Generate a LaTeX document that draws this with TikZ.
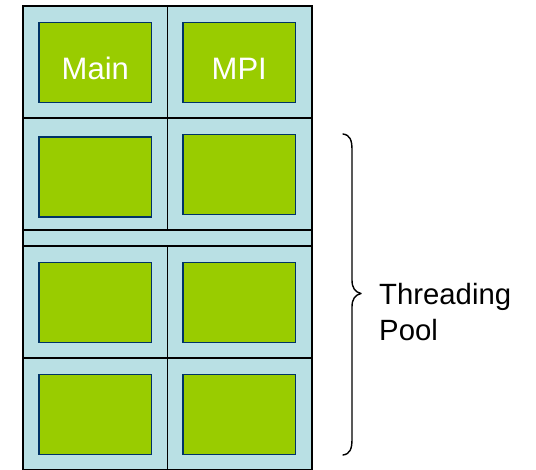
\documentclass[tikz,border=0pt]{standalone}
\usepackage{fontspec}
\setmainfont{Liberation Sans}
\definecolor{cellblue}{RGB}{185,224,228}
\definecolor{threadgreen}{RGB}{153,204,0}
\definecolor{edgeblue}{RGB}{0,51,102}
\begin{document}
\begin{tikzpicture}[x=1bp,y=-1bp,
  cell/.style={draw=black,line width=1.3bp,fill=cellblue,minimum width=144.5bp,minimum height=112bp,inner sep=0pt,outer sep=0pt},
  strip/.style={draw=black,line width=1.3bp,fill=cellblue,minimum width=289bp,minimum height=16bp,inner sep=0pt,outer sep=0pt},
  thread/.style={draw=edgeblue,line width=1.5bp,fill=threadgreen,minimum width=112.5bp,minimum height=80bp,inner sep=0pt,text=white,
    text height=34.6bp,text depth=0bp,font=\fontsize{31bp}{36bp}\selectfont},
  label/.style={align=left,anchor=west,inner sep=0pt,font=\fontsize{29.3bp}{36bp}\selectfont}]
\useasboundingbox (0,0) rectangle (536,470);
% cell grid
\node[cell] (c11) at (95.25,62) {};
\node[cell] (c12) at (239.75,62) {};
\node[cell] (c21) at (95.25,174) {};
\node[cell] (c22) at (239.75,174) {};
\node[strip] (gap) at (167.5,238) {};
\node[cell] (c31) at (95.25,302) {};
\node[cell] (c32) at (239.75,302) {};
\node[cell] (c41) at (95.25,414) {};
\node[cell] (c42) at (239.75,414) {};
% threads
\node[thread] (main) at (95.3,62.7) {Main};
\node[thread] (mpi) at (239.3,62.7) {MPI};
\node[thread] (t21) at (95.3,177.2) {};
\node[thread] (t22) at (239.3,174.3) {};
\node[thread] (t31) at (95.3,302.5) {};
\node[thread] (t32) at (239.3,302.5) {};
\node[thread] (t41) at (95.3,414.5) {};
\node[thread] (t42) at (239.3,414.5) {};
% brace over the pool
\coordinate (btop) at (343,134);
\coordinate (btip) at (361,293.5);
\coordinate (bbot) at (343,455);
\draw[line width=1.4bp,line cap=round,line join=round]
  (btop) .. controls (350,135) and (352,140) .. (352,150)
  -- (352,280) .. controls (352,288) and (355,292) .. (btip)
  .. controls (355,295) and (352,299) .. (352,307)
  -- (352,439) .. controls (352,449) and (350,454) .. (bbot);
\node[label] (pool) at (379,312) {Threading\\Pool};
\end{tikzpicture}
\end{document}
